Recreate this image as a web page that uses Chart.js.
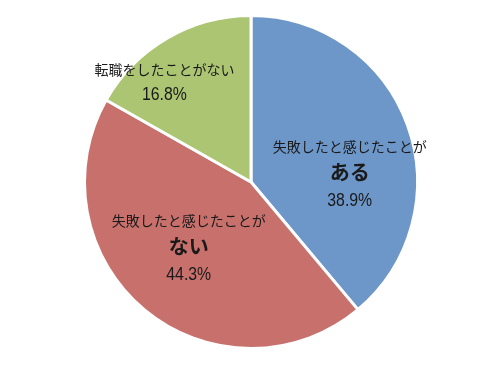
<!DOCTYPE html>
<html>
<head>
<meta charset="utf-8">
<script src="https://cdn.jsdelivr.net/npm/chart.js@4/dist/chart.umd.min.js"></script>
<style>
  html, body { margin: 0; padding: 0; background: #fff; }
  #wrap { width: 496px; height: 365px; }
</style>
</head>
<body>
<div id="wrap"><canvas id="chart" width="496" height="365"></canvas></div>
<script>
// ==============================
// DATA
// ==============================
const categories = ["失敗したと感じたことがある", "失敗したと感じたことがない", "転職をしたことがない"];
const values = [38.9, 44.3, 16.8];
const labelHead = ["失敗したと感じたことが", "失敗したと感じたことが", "転職をしたことがない"];
const labelEmph = ["ある", "ない", ""];
const colors = ["#6E97C9", "#C8706C", "#ABC572"];

// ==============================
// LABEL PLUGIN (multi-line labels inside slices)
// ==============================
const sliceLabels = {
  id: "sliceLabels",
  afterDatasetsDraw(chart, args, opts) {
    const ctx = chart.ctx;
    const meta = chart.getDatasetMeta(0);
    ctx.save();
    ctx.textAlign = "center";
    ctx.textBaseline = "middle";
    ctx.fillStyle = "#1a1a1a";
    meta.data.forEach((arc, i) => {
      const r = arc.outerRadius;
      const pos = opts.layout[i];
      const x = arc.x + pos.dx * r;
      let y = arc.y + pos.dy * r;
      const pct = values[i].toFixed(1) + "%";

      ctx.font = "14px 'Noto Sans CJK JP', sans-serif";
      ctx.fillText(labelHead[i], x, y);

      if (labelEmph[i]) {
        y += 25;
        ctx.font = "bold 20px 'Noto Sans CJK JP', sans-serif";
        ctx.fillText(labelEmph[i], x, y);
        y += 29;
      } else {
        y += 26;
      }
      // narrow-ish digits like the original
      ctx.save();
      ctx.translate(x, y);
      ctx.scale(0.88, 1);
      ctx.font = "18px 'Liberation Sans', Arial, sans-serif";
      ctx.fillText(pct, 0, 0);
      ctx.restore();
    });
    ctx.restore();
  }
};

// ==============================
// RENDER PIE
// ==============================
new Chart(document.getElementById("chart"), {
  type: "pie",
  data: {
    labels: categories,
    datasets: [{
      data: values,
      backgroundColor: colors,
      borderColor: "#ffffff",
      borderWidth: 3
    }]
  },
  options: {
    responsive: false,
    animation: false,
    layout: { padding: { top: 14, bottom: 15, left: 6, right: 0 } },
    plugins: {
      legend: { display: false },
      tooltip: { enabled: false },
      sliceLabels: {
        layout: [
          { dx: 0.593, dy: -0.21 },
          { dx: -0.374, dy: 0.234 },
          { dx: -0.52, dy: -0.677 }
        ]
      }
    }
  },
  plugins: [sliceLabels]
});
</script>
</body>
</html>
